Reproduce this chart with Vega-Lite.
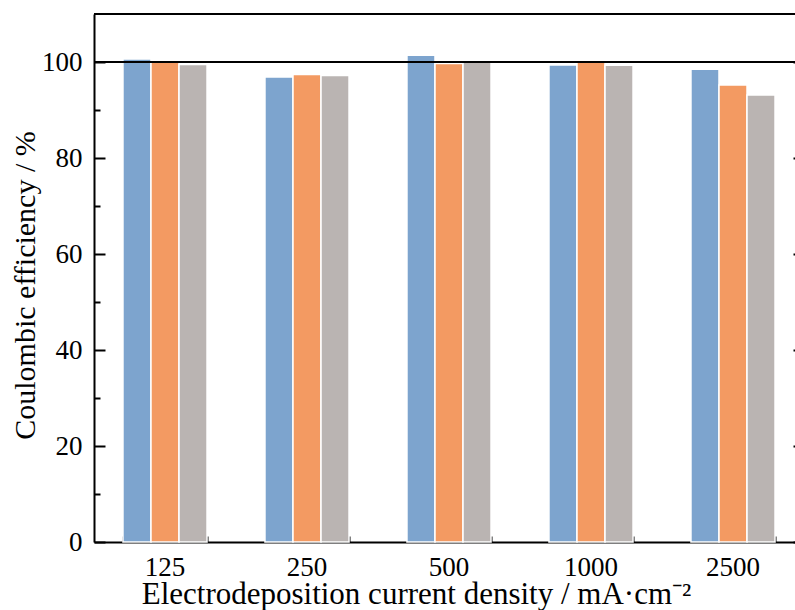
{
  "$schema": "https://vega.github.io/schema/vega-lite/v6.json",
  "width": 701,
  "height": 528,
  "autosize": {"type": "none"},
  "padding": {"left": 94, "top": 14, "right": 0, "bottom": 68},
  "background": "white",
  "config": {
    "view": {"stroke": null},
    "axis": {
      "grid": false,
      "labelFont": "Liberation Serif",
      "titleFont": "Liberation Serif",
      "labelFontSize": 27,
      "titleFontSize": 30,
      "titleFontWeight": "normal",
      "labelColor": "black",
      "titleColor": "black",
      "domainColor": "black",
      "tickColor": "black",
      "domainWidth": 2,
      "tickWidth": 2
    }
  },
  "data": {
    "values": [
      {"density": "125", "series": "S1", "value": 100.6},
      {"density": "125", "series": "S2", "value": 100.0},
      {"density": "125", "series": "S3", "value": 99.5},
      {"density": "250", "series": "S1", "value": 96.9},
      {"density": "250", "series": "S2", "value": 97.4},
      {"density": "250", "series": "S3", "value": 97.2},
      {"density": "500", "series": "S1", "value": 101.4},
      {"density": "500", "series": "S2", "value": 99.7},
      {"density": "500", "series": "S3", "value": 100.0},
      {"density": "1000", "series": "S1", "value": 99.4},
      {"density": "1000", "series": "S2", "value": 100.1},
      {"density": "1000", "series": "S3", "value": 99.3},
      {"density": "2500", "series": "S1", "value": 98.5},
      {"density": "2500", "series": "S2", "value": 95.2},
      {"density": "2500", "series": "S3", "value": 93.1}
    ]
  },
  "resolve": {"axis": {"x": "independent", "y": "independent"}},
  "layer": [
    {
      "mark": {"type": "bar", "stroke": "white", "strokeWidth": 1.5},
      "encoding": {
        "x": {
          "field": "density", "type": "nominal",
          "sort": ["125", "250", "500", "1000", "2500"],
          "scale": {"range": [0, 710], "paddingInner": 0.408, "paddingOuter": 0.204},
          "axis": {"orient": "bottom", "title": "Electrodeposition current density / mA·cm⁻²", "titleFontSize": 31, "titleX": 322, "titleAnchor": "middle", "labelAngle": 0, "tickSize": -10, "labelPadding": 22, "titlePadding": -1}
        },
        "xOffset": {"field": "series", "type": "nominal", "sort": ["S1", "S2", "S3"], "scale": {"paddingInner": 0, "paddingOuter": 0}},
        "y": {
          "field": "value", "type": "quantitative",
          "scale": {"domain": [0, 110], "nice": false, "zero": true},
          "axis": {"orient": "left", "values": [0, 20, 40, 60, 80, 100], "tickSize": -11, "labelPadding": 23, "title": "Coulombic efficiency / %", "titleY": 271, "titleAnchor": "middle", "titlePadding": 1}
        },
        "color": {
          "field": "series", "type": "nominal",
          "scale": {"domain": ["S1", "S2", "S3"], "range": ["#7DA4CE", "#F39A62", "#BAB4B2"]},
          "legend": null
        }
      }
    },
    {
      "mark": {"type": "bar", "opacity": 0},
      "encoding": {
        "x": {
          "field": "density", "type": "nominal",
          "sort": ["125", "250", "500", "1000", "2500"],
          "axis": {"orient": "bottom", "tickBand": "extent", "labels": false, "domain": false, "tickSize": -6, "title": null}
        },
        "y": {
          "field": "value", "type": "quantitative",
          "axis": {"orient": "left", "values": [10, 30, 50, 70, 90], "labels": false, "domain": false, "tickSize": -6, "title": null}
        }
      }
    },
    {
      "mark": {"type": "bar", "opacity": 0},
      "encoding": {
        "y": {
          "field": "value", "type": "quantitative",
          "axis": {"orient": "right", "values": [0, 20, 40, 60, 80, 100], "labels": false, "domain": false, "tickSize": -10, "offset": 8, "title": null}
        }
      }
    },
    {
      "data": {"values": [{"v": 100}, {"v": 110}]},
      "mark": {"type": "rule", "color": "black", "strokeWidth": 2},
      "encoding": {
        "y": {"field": "v", "type": "quantitative", "axis": null}
      }
    }
  ]
}
